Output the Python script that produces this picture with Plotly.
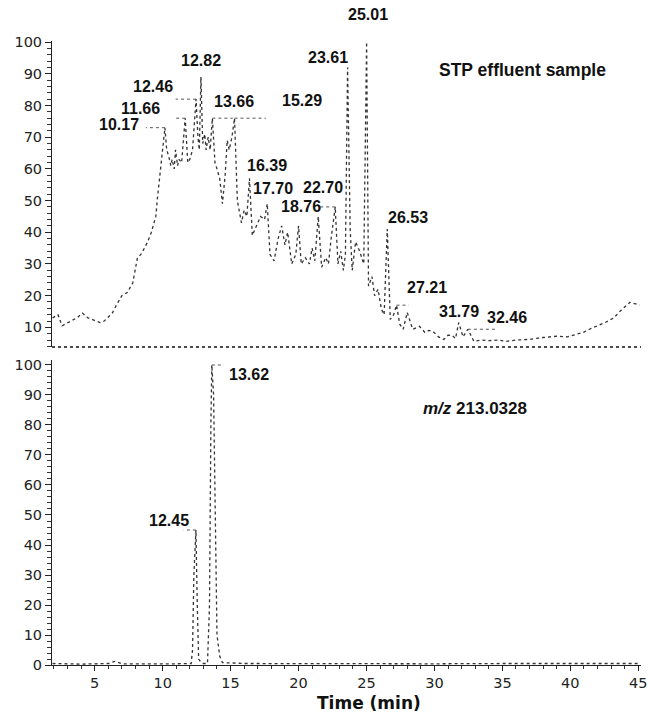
import plotly.graph_objects as go

# ---------------- data ----------------
top_time = [1.9, 2.3, 2.6, 3.2, 3.7, 4.1, 4.5, 4.8, 5.4, 5.7, 6.3, 6.6, 7.0, 7.4, 7.6, 7.8,
            8.15, 8.4, 8.66, 8.9, 9.17, 9.5, 9.6, 9.76, 9.95, 10.17, 10.3, 10.45, 10.6, 10.7,
            10.85, 10.95, 11.1, 11.2, 11.4, 11.66, 11.85, 12.0, 12.2, 12.46, 12.6, 12.7, 12.82,
            12.95, 13.1, 13.2, 13.35, 13.5, 13.66, 13.85, 14.0, 14.2, 14.4, 14.6, 14.75, 14.9,
            15.1, 15.29, 15.5, 15.8, 16.0, 16.2, 16.39, 16.6, 16.9, 17.2, 17.5, 17.70, 17.9,
            18.2, 18.5, 18.76, 19.0, 19.2, 19.5, 19.8, 20.0, 20.2, 20.5, 20.8, 21.0, 21.2, 21.45,
            21.7, 22.0, 22.2, 22.4, 22.70, 22.9, 23.1, 23.3, 23.45, 23.61, 23.8, 23.95, 24.2,
            24.5, 24.8, 25.01, 25.15, 25.4, 25.6, 25.85, 26.1, 26.3, 26.53, 26.75, 27.0, 27.21,
            27.45, 27.7, 28.0, 28.4, 28.9, 29.3, 29.6, 29.9, 30.3, 30.7, 31.0, 31.3, 31.55,
            31.79, 32.1, 32.46, 32.9, 33.5, 34.0, 34.7, 35.3, 36.0, 37.0, 38.0, 39.0, 39.8,
            40.5, 41.0, 41.4, 42.0, 42.6, 43.2, 43.8, 44.4, 45.1]
top_abund = [13, 14, 10.5, 12, 13, 14.5, 13, 12.5, 11.5, 12, 14.5, 17, 20, 21, 22.5, 24,
             32, 33, 35, 37, 40, 45, 50, 56, 63, 73, 66, 64, 61, 63,
             60, 66, 61, 63, 62, 76, 62, 63, 66, 82, 70, 66, 89,
             68, 71, 66, 70, 66, 76, 62, 60, 57, 49, 58, 69, 66,
             70, 76, 50, 43, 47, 45, 57, 39, 42, 45, 44, 49, 33,
             31, 38, 42, 36, 40, 30, 33, 42, 30, 32, 30, 35, 31, 45,
             29, 32, 30, 38, 48, 30, 34, 28, 33, 92, 41, 28, 37,
             34, 30, 100, 23, 26, 20, 22, 15.7, 14, 41, 12.5, 14, 17,
             11, 9.4, 14.7, 9.4, 10.3, 8.4, 9, 8.7, 7, 6.2, 7.5, 7.5, 6.5,
             11.5, 7, 9.4, 5.6, 6, 5.8, 6, 5.6, 6, 6.2, 6.8, 7.2, 7,
             7.8, 8.5, 9.4, 10.5, 11.6, 13, 15.7, 17.9, 17]

bot_time = [1.9, 4.0, 6.0, 6.5, 7.0, 9.0, 11.0, 12.1, 12.2, 12.3, 12.45, 12.55, 12.65, 12.8,
            13.0, 13.3, 13.45, 13.55, 13.62, 13.75, 13.9, 14.0, 14.2, 14.4, 16.0, 20.0, 25.0,
            30.0, 35.0, 40.0, 45.1]
bot_abund = [0.5, 0.3, 0.5, 1.2, 0.4, 0.3, 0.4, 0.5, 5, 30, 45, 20, 2, 1,
             0.5, 0.5, 20, 80, 100, 90, 40, 10, 3, 0.8, 0.5, 0.4, 0.5,
             0.4, 0.5, 0.4, 0.5]

top_peak_time = [10.17, 11.66, 12.46, 12.82, 13.66, 15.29, 16.39, 17.70, 18.76, 22.70,
                 23.61, 25.01, 26.53, 27.21, 31.79, 32.46]
top_peak_abund = [73, 76, 82, 89, 76, 76, 57, 49, 42, 48, 92, 100, 41, 17, 11.5, 9.4]
top_peak_labels = ["10.17", "11.66", "12.46", "12.82", "13.66", "15.29", "16.39", "17.70",
                   "18.76", "22.70", "23.61", "25.01", "26.53", "27.21", "31.79", "32.46"]

bot_peak_time = [12.45, 13.62]
bot_peak_abund = [45, 100]
bot_peak_labels = ["12.45", "13.62"]

top_title = "STP effluent sample"
bot_title = "<i>m/z</i> 213.0328"
x_title = "Time (min)"

# ---------------- label placement (styling) ----------------
# (xshift px, yshift px, leader length in minutes)
top_label_style = [(-46, 3, -1.4), (-45, 10, -0.8), (-43, 13, -1.5), (0, 16, 0),
                   (22, 17, 1.5), (67, 18, 2.3), (18, 13, 0), (6, 15, 0), (19, 19, 0),
                   (-12, 19, -1.3), (-20, 10, 0), (1, 28, 0), (21, 12, 0), (30, 18, 0.9),
                   (0, 11, 0), (39, 12, 2.2)]
bot_label_style = [(-27, 10, -0.9), (37, -10, 0.9)]

LINE_COLOR = "#333333"
TICK_FONT = dict(family="DejaVu Sans", size=14.5, color="#222")
LABEL_FONT = dict(family="Liberation Sans, Arial", size=16, color="#111")

fig = go.Figure()
fig.add_trace(go.Scatter(x=top_time, y=top_abund, mode="lines", xaxis="x", yaxis="y",
                         line=dict(color=LINE_COLOR, width=1.3, dash="dot"),
                         showlegend=False, hoverinfo="skip"))
fig.add_trace(go.Scatter(x=bot_time, y=bot_abund, mode="lines", xaxis="x2", yaxis="y2",
                         line=dict(color=LINE_COLOR, width=1.3, dash="dot"),
                         showlegend=False, hoverinfo="skip"))

annotations = []
shapes = []


def add_labels(times, abunds, labels, styles, xr, yr):
    for t, a, lab, (dx, dy, lead) in zip(times, abunds, labels, styles):
        annotations.append(dict(x=t, y=a, xref=xr, yref=yr, text="<b>%s</b>" % lab,
                                showarrow=False, xshift=dx, yshift=dy,
                                xanchor="center", yanchor="middle", font=LABEL_FONT))
        if lead:
            shapes.append(dict(type="line", xref=xr, yref=yr, x0=t, x1=t + lead,
                               y0=a, y1=a, line=dict(color="#555", width=1, dash="dot")))


add_labels(top_peak_time, top_peak_abund, top_peak_labels, top_label_style, "x", "y")
add_labels(bot_peak_time, bot_peak_abund, bot_peak_labels, bot_label_style, "x2", "y2")

annotations.append(dict(x=0.798, y=0.9084, xref="paper", yref="paper",
                        xanchor="center", yanchor="middle",
                        text="<b>%s</b>" % top_title, showarrow=False,
                        font=dict(family="Liberation Sans, Arial", size=17.5, color="#111")))
annotations.append(dict(x=0.718, y=0.392, xref="paper", yref="paper",
                        xanchor="center", yanchor="middle",
                        text="<b>%s</b>" % bot_title, showarrow=False,
                        font=dict(family="Liberation Sans, Arial", size=17, color="#111")))
annotations.append(dict(x=0.538, y=-0.058, xref="paper", yref="paper",
                        xanchor="center", yanchor="middle",
                        text="<b>%s</b>" % x_title, showarrow=False,
                        font=dict(family="DejaVu Sans", size=17, color="#111")))

# dotted bottom border of the top panel
shapes.append(dict(type="line", xref="x domain", yref="y domain", x0=0, x1=1, y0=0, y1=0,
                   line=dict(color="#111", width=1.6, dash="dot")))

xr = [1.86, 45.2]
yaxis_common = dict(showgrid=False, zeroline=False, showline=True, linecolor="#222",
                    linewidth=1, ticks="outside", ticklen=6, tickcolor="#222",
                    dtick=10, tick0=0, tickfont=TICK_FONT, automargin=False,
                    minor=dict(dtick=2, ticklen=4, ticks="outside", tickcolor="#333",
                               tickwidth=1))

fig.update_layout(
    width=648, height=715,
    margin=dict(l=52, r=7, t=10, b=50, autoexpand=False),
    paper_bgcolor="white", plot_bgcolor="white",
    showlegend=False,
    xaxis=dict(domain=[0, 1], anchor="y", range=xr, showgrid=False, zeroline=False,
               showline=False, ticks="", showticklabels=False, matches="x2",
               automargin=False),
    yaxis=dict(domain=[0.4855, 0.9534], anchor="x", range=[3.8, 100.5], **yaxis_common),
    xaxis2=dict(domain=[0, 1], anchor="y2", range=xr, showgrid=False, zeroline=False,
                showline=True, linecolor="#222", linewidth=1, ticks="outside", ticklen=5,
                tickcolor="#222", dtick=5, tick0=0, tickfont=TICK_FONT,
                ticklabeloverflow="allow", automargin=False,
                minor=dict(dtick=1, ticklen=3, ticks="outside", tickcolor="#333",
                           tickwidth=1)),
    yaxis2=dict(domain=[0, 0.4649], anchor="x2", range=[0, 101.5], **yaxis_common),
    annotations=annotations,
    shapes=shapes,
)

fig.write_html("out.html")
